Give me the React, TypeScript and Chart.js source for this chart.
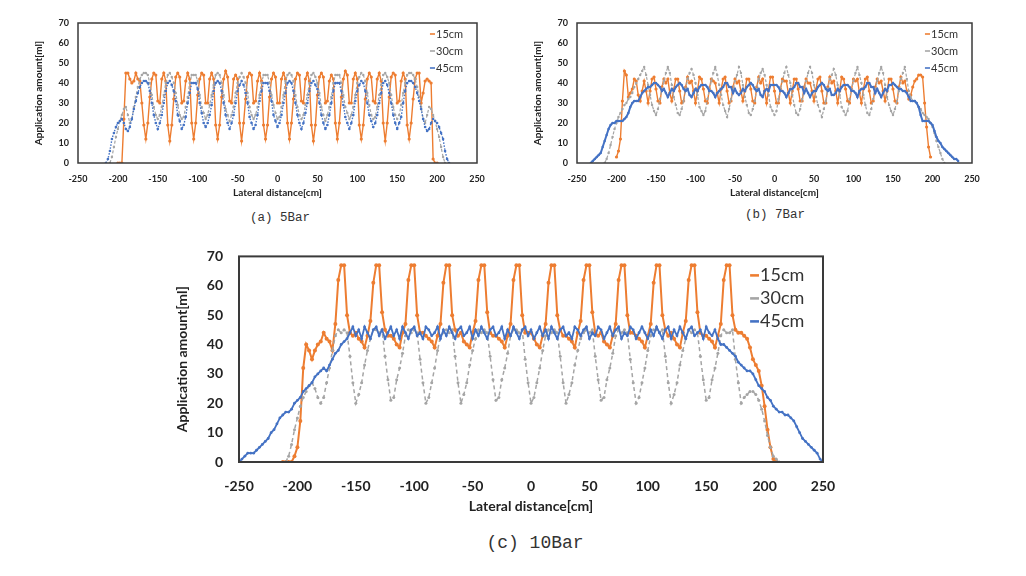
import React, { useEffect, useRef } from "react";
import { Chart, registerables } from "chart.js";

Chart.register(...registerables);

const _ = null;

// Lateral distance grid [cm]
const X = [-250,-247.5,-245,-242.5,-240,-237.5,-235,-232.5,-230,-227.5,-225,-222.5,-220,-217.5,-215,-212.5,-210,-207.5,-205,-202.5,
-200,-197.5,-195,-192.5,-190,-187.5,-185,-182.5,-180,-177.5,-175,-172.5,-170,-167.5,-165,-162.5,-160,-157.5,-155,-152.5,
-150,-147.5,-145,-142.5,-140,-137.5,-135,-132.5,-130,-127.5,-125,-122.5,-120,-117.5,-115,-112.5,-110,-107.5,-105,-102.5,
-100,-97.5,-95,-92.5,-90,-87.5,-85,-82.5,-80,-77.5,-75,-72.5,-70,-67.5,-65,-62.5,-60,-57.5,-55,-52.5,
-50,-47.5,-45,-42.5,-40,-37.5,-35,-32.5,-30,-27.5,-25,-22.5,-20,-17.5,-15,-12.5,-10,-7.5,-5,-2.5,
0,2.5,5,7.5,10,12.5,15,17.5,20,22.5,25,27.5,30,32.5,35,37.5,40,42.5,45,47.5,
50,52.5,55,57.5,60,62.5,65,67.5,70,72.5,75,77.5,80,82.5,85,87.5,90,92.5,95,97.5,
100,102.5,105,107.5,110,112.5,115,117.5,120,122.5,125,127.5,130,132.5,135,137.5,140,142.5,145,147.5,
150,152.5,155,157.5,160,162.5,165,167.5,170,172.5,175,177.5,180,182.5,185,187.5,190,192.5,195,197.5,
200,202.5,205,207.5,210,212.5,215,217.5,220,222.5,225,227.5,230,232.5,235,237.5,240,242.5,245,247.5,250];

const X_TICKS = [-250, -200, -150, -100, -50, 0, 50, 100, 150, 200, 250];
const Y_TICKS = [0, 10, 20, 30, 40, 50, 60, 70];
const SERIES_NAMES = ["15cm", "30cm", "45cm"];

// ---------- (a) 5Bar ----------
const A15 = [
_,_,_,_,_,_,_,_,_,_,_,_,_,_,_,_,_,_,_,_,
0,0,0,22,45,45,42,40,41,45,42,41,30,19,
12,20,33,42,45,44,31,30,42,45,41,19,
11,19,32,43,45,43,30,31,41,45,42,20,
12,20,34,42,45,44,30,30,42,45,42,19,
12,19,33,42,46,43,31,30,42,44,42,20,
11,20,32,43,45,44,30,31,41,45,41,19,
12,19,33,42,45,43,30,30,42,45,42,20,
12,20,32,42,45,44,31,30,42,45,41,19,
11,19,34,43,45,43,30,31,41,44,42,20,
12,20,33,42,46,44,30,30,42,45,42,19,
12,19,32,42,45,43,31,30,42,45,41,20,
11,20,33,43,45,44,30,31,41,45,42,19,
12,
20,32,42,45,45,30,35,41,42,41,40,2,0,0,
_,_,_,_,_,_,_,_,_,_,_,_,_,_,_,_,_,_,_,_];

const A30 = [
_,_,_,_,_,_,_,_,_,_,_,_,_,_,_,_,
0,3,8,13,17,21,24,27,28,24,20,22,28,33,38,42,44,45,
45,44,40,34,28,24,22,24,28,34,40,44,
45,43,40,35,29,24,22,23,28,33,40,44,
44,44,41,34,28,25,22,24,29,34,39,44,
45,44,40,34,27,24,21,24,28,35,40,43,
45,43,40,35,28,24,22,24,28,34,40,44,
44,44,40,34,29,25,22,23,28,34,41,44,
45,44,41,34,28,24,22,24,29,34,40,44,
45,43,40,35,28,24,21,24,28,33,40,44,
44,44,40,34,28,25,22,24,28,34,40,43,
45,44,41,35,29,24,22,23,28,34,39,44,
45,43,40,34,28,24,22,24,29,35,40,44,
45,
45,44,42,38,33,28,22,20,24,28,27,24,21,17,13,8,3,0,
_,_,_,_,_,_,_,_,_,_,_,_,_,_,_,_];

const A45 = [
_,_,_,_,_,_,_,_,_,_,_,_,_,_,
0,2,6,12,15,18,20,21,22,20,17,16,18,22,27,31,35,38,40,41,
41,40,36,30,24,20,17,20,24,30,36,40,
41,39,36,31,24,21,17,19,23,30,35,40,
40,40,37,30,25,20,18,20,24,29,36,40,
41,40,36,30,24,20,17,20,24,30,36,39,
41,39,35,30,23,20,17,19,24,31,36,40,
40,40,36,31,24,21,18,20,24,30,35,40,
41,40,36,30,24,20,17,20,25,30,36,40,
41,39,37,30,24,20,17,19,24,30,36,40,
40,40,36,29,23,20,17,20,24,31,36,39,
41,40,36,30,24,21,18,20,24,30,35,40,
41,39,35,30,24,20,17,20,23,30,36,40,
41,
41,40,38,35,31,27,22,18,16,17,20,22,21,20,18,15,12,6,2,0,
_,_,_,_,_,_,_,_,_,_,_,_,_,_];

// ---------- (b) 7Bar ----------
const B15 = [
_,_,_,_,_,_,_,_,_,_,_,_,_,_,_,_,_,_,_,_,
3,6,12,31,46,44,33,35,37,42,41,34,31,36,
41,36,30,36,42,43,37,31,30,38,42,40,
42,35,31,37,42,42,36,30,31,38,43,40,
41,36,30,36,43,42,37,31,30,37,42,41,
40,35,30,37,42,43,36,30,31,38,42,40,
41,36,31,36,42,42,37,31,30,38,43,40,
42,36,30,37,43,43,36,30,30,37,42,41,
41,35,30,36,42,42,37,31,31,38,42,40,
40,36,31,37,42,43,36,30,30,38,43,40,
41,36,30,36,43,42,37,31,30,37,42,41,
42,35,30,37,42,43,36,30,31,38,42,40,
41,36,31,36,42,42,37,31,30,38,43,40,
41,
36,32,34,38,41,42,44,44,43,30,18,8,3,_,
_,_,_,_,_,_,_,_,_,_,_,_,_,_,_,_,_,_,_,_];

const B30 = [
_,_,_,_,_,_,_,_,_,_,_,_,_,_,
0,2,5,9,13,17,20,23,25,27,29,30,32,33,35,38,40,42,44,46,
48,44,39,34,29,26,24,27,32,37,41,45,
48,45,39,33,29,25,24,27,31,37,42,45,
47,44,40,34,28,26,24,26,32,36,41,45,
48,44,39,34,29,26,23,27,32,37,41,44,
48,45,39,33,29,25,24,27,31,37,42,45,
47,44,39,34,28,26,24,26,32,37,41,45,
48,44,40,34,29,25,24,27,32,36,41,45,
48,45,39,33,29,26,23,27,31,37,42,44,
47,44,39,34,28,26,24,26,32,37,41,45,
48,44,40,34,29,25,24,27,32,37,41,45,
48,45,39,33,29,26,24,27,31,36,42,45,
48,
42,36,33,31,31,30,28,27,25,24,23,22,20,18,15,11,8,5,2,0,
_,_,_,_,_,_,_,_,_,_,_,_,_,_];

const B45 = [
_,_,_,_,_,_,_,
0,1,2,3,4,5,8,11,14,17,19,20,20,21,21,21,21,22,23,25,28,30,31,31,31,33,35,36,37,38,38,39,40,
40,39,38,36,37,35,33,35,37,36,38,39,
40,39,37,36,37,34,33,35,37,36,38,39,
39,39,38,36,36,35,33,35,36,37,38,40,
40,38,38,35,37,35,34,35,37,36,38,39,
40,39,37,36,37,34,33,36,37,36,39,39,
39,39,38,36,36,35,33,35,37,37,38,40,
40,38,38,35,37,35,33,35,36,36,38,39,
40,39,37,36,37,34,34,35,37,36,38,39,
39,39,38,36,36,35,33,36,37,37,38,40,
40,38,38,35,37,35,33,35,37,36,39,39,
40,
39,38,37,37,36,36,35,33,31,31,31,30,28,24,21,21,21,21,20,19,16,13,11,10,8,7,6,5,4,3,2,2,1,
_,_,_,_,_,_,_];

// ---------- (c) 10Bar ----------
const C15 = [
_,_,_,_,_,_,_,_,_,_,_,_,_,_,_,
0,0,0,0,2,5,14,32,40,38,35,38,40,41,44,42,41,38,
47,62,67,67,50,44,43,44,42,41,39,43,
48,61,67,67,51,45,43,43,42,40,39,44,
47,62,67,67,50,44,44,43,42,41,39,43,
47,61,67,67,50,45,43,44,41,40,39,44,
48,62,67,67,51,44,43,43,42,41,39,43,
47,62,67,67,50,44,44,44,42,40,39,43,
47,61,67,67,50,45,43,43,42,41,39,44,
48,62,67,67,51,44,43,44,41,40,39,43,
47,62,67,67,50,44,44,43,42,41,39,43,
47,61,67,67,50,45,43,44,42,40,39,44,
48,62,67,67,51,44,43,43,42,41,39,43,
47,62,67,67,50,45,
44,44,43,42,39,35,33,31,26,19,11,5,1,0,
_,_,_,_,_,_,_,_,_,_,_,_,_,_,_,_];

const C30 = [
_,_,_,_,_,_,_,_,_,_,_,_,_,_,_,_,
0,2,6,11,15,19,22,24,26,27,25,22,
20,22,27,32,38,43,45,44,45,44,36,27,
20,23,27,33,38,42,45,45,44,45,36,28,
21,22,28,32,37,43,45,44,45,44,35,27,
20,22,27,32,38,43,44,45,44,45,36,27,
20,23,27,33,38,42,45,44,45,44,36,28,
21,22,28,32,37,43,45,45,44,45,35,27,
20,22,27,32,38,43,45,44,45,44,36,27,
20,23,27,33,38,42,44,45,44,45,36,28,
21,22,28,32,37,43,45,44,45,44,35,27,
20,22,27,32,38,43,45,45,44,45,36,27,
20,23,27,33,38,42,45,44,45,44,36,28,
21,22,28,32,37,43,45,44,44,45,35,27,
20,
22,23,24,24,23,21,18,14,9,5,2,1,0,
_,_,_,_,_,_,_,_,_,_,_,_,_,_,_];

const C45 = [
0,1,2,3,3,3,4,5,6,7,8,10,11,13,15,16,17,17,18,20,21,22,24,25,26,27,29,30,31,32,31,33,35,37,38,40,41,42,
44,46,43,45,42,46,44,42,45,46,
43,45,42,44,46,43,45,42,46,44,
42,45,46,43,44,42,46,45,43,44,
46,42,45,43,46,44,42,45,46,43,
44,46,42,45,43,46,44,42,45,46,
43,44,46,42,45,43,46,44,42,45,
46,43,45,42,44,46,43,45,42,46,
44,42,45,46,43,44,42,46,45,43,
45,46,42,44,43,46,45,42,44,46,
43,45,46,42,44,43,46,45,42,44,
46,44,42,45,43,46,44,42,45,46,
42,45,43,46,44,42,45,46,43,44,
45,42,46,44,43,45,42,
40,40,39,38,37,36,34,33,32,31,31,30,28,26,25,24,22,21,19,18,17,17,16,16,15,14,12,10,8,7,6,5,4,3,1,0];

const ORANGE = "#ED7D31";
const GREY = "#A5A5A5";
const BLUE = "#4472C4";
const COLORS = [ORANGE, GREY, BLUE];

type Panel = {
  series: (number | null)[][];
  canvasW: number;
  canvasH: number;
  yAxisW: number;
  xAxisH: number;
  padTop: number;
  padRight: number;
  tickSize: number;
  titleSize: number;
  xTickPad: number;
  yTickPad: number;
  yTitlePad: number;
  xTitlePad: number;
  legendSize: number;
  legendDx: number;
  legendDy: number;
  legendGap: number;
  frameW: number;
  lineW: number[];
  pointR: number[];
  dash: number[][];
};

const framePlugin = {
  id: "frame",
  afterDatasetsDraw(chart: any, _a: any, opts: any) {
    const { ctx, chartArea } = chart;
    ctx.save();
    ctx.strokeStyle = "#3a3a3a";
    ctx.lineWidth = opts.width || 1.5;
    ctx.setLineDash([]);
    ctx.strokeRect(chartArea.left, chartArea.top, chartArea.right - chartArea.left, chartArea.bottom - chartArea.top);
    ctx.restore();
  },
};

const legendPlugin = {
  id: "inLegend",
  afterDraw(chart: any, _a: any, opts: any) {
    const { ctx, chartArea } = chart;
    ctx.save();
    ctx.font = `${opts.size}px Lato`;
    ctx.textBaseline = "middle";
    ctx.textAlign = "left";
    chart.data.datasets.forEach((ds: any, k: number) => {
      const y = chartArea.top + opts.dy + k * opts.gap;
      const x = chartArea.right - opts.dx;
      ctx.strokeStyle = ds.borderColor;
      ctx.lineWidth = Math.max(1.5, opts.size / 7);
      ctx.setLineDash([]);
      ctx.beginPath();
      ctx.moveTo(x - opts.size * 0.55, y);
      ctx.lineTo(x - 1, y);
      ctx.stroke();
      ctx.fillStyle = "#333";
      ctx.fillText(ds.label, x, y);
    });
    ctx.restore();
  },
};

function buildChart(canvas: HTMLCanvasElement, p: Panel) {
  const datasets = p.series.map((ys, k) => ({
    label: SERIES_NAMES[k],
    data: X.map((x, i) => ({ x, y: ys[i] })),
    borderColor: COLORS[k],
    backgroundColor: COLORS[k],
    pointBackgroundColor: COLORS[k],
    pointBorderWidth: 0,
    borderWidth: p.lineW[k],
    pointRadius: p.pointR[k],
    borderDash: p.dash[k],
    tension: 0,
    spanGaps: false,
    order: 3 - k,
  }));
  const tickFont = { family: "Lato", size: p.tickSize, weight: "bold" as const };
  const titleFont = { family: "Lato", size: p.titleSize, weight: "bold" as const };
  return new Chart(canvas, {
    type: "line",
    data: { datasets },
    options: {
      responsive: false,
      animation: false,
      devicePixelRatio: 1,
      layout: { padding: { top: p.padTop, right: p.padRight, left: 0, bottom: 0 } },
      plugins: {
        legend: { display: false },
        tooltip: { enabled: false },
        frame: { width: p.frameW },
        inLegend: { size: p.legendSize, dx: p.legendDx, dy: p.legendDy, gap: p.legendGap },
      } as any,
      scales: {
        x: {
          type: "linear",
          min: X_TICKS[0],
          max: X_TICKS[X_TICKS.length - 1],
          afterBuildTicks: (s: any) => { s.ticks = X_TICKS.map((v) => ({ value: v })); },
          ticks: { font: tickFont, color: "#222", padding: p.xTickPad, maxRotation: 0, autoSkip: false },
          grid: { display: false, drawTicks: false },
          border: { display: false },
          title: { display: true, text: "Lateral distance[cm]", font: titleFont, color: "#222", padding: { top: 0, bottom: p.xTitlePad } },
          afterFit: (s: any) => { s.height = p.xAxisH; },
        },
        y: {
          type: "linear",
          min: Y_TICKS[0],
          max: Y_TICKS[Y_TICKS.length - 1],
          afterBuildTicks: (s: any) => { s.ticks = Y_TICKS.map((v) => ({ value: v })); },
          ticks: { font: tickFont, color: "#222", padding: p.yTickPad },
          grid: { display: false, drawTicks: false },
          border: { display: false },
          title: { display: true, text: "Application amount[ml]", font: titleFont, color: "#222", padding: { top: p.yTitlePad, bottom: 0 } },
          afterFit: (s: any) => { s.width = p.yAxisW; },
        },
      },
    } as any,
    plugins: [framePlugin, legendPlugin],
  });
}

const PANEL_A: Panel = {
  series: [A15, A30, A45], canvasW: 500, canvasH: 205, yAxisW: 78, xAxisH: 42, padTop: 23, padRight: 23,
  tickSize: 9, titleSize: 10, xTickPad: 11, yTickPad: 9, yTitlePad: 33, xTitlePad: 6,
  legendSize: 11, legendDx: 41, legendDy: 11, legendGap: 17, frameW: 1.5,
  lineW: [1.4, 1.2, 1.4], pointR: [1.6, 1.2, 1.3], dash: [[], [3, 2], [1.5, 1.5]],
};
const PANEL_B: Panel = {
  series: [B15, B30, B45], canvasW: 500, canvasH: 205, yAxisW: 77, xAxisH: 42, padTop: 23, padRight: 28,
  tickSize: 9, titleSize: 10, xTickPad: 11, yTickPad: 9, yTitlePad: 32, xTitlePad: 6,
  legendSize: 11, legendDx: 41, legendDy: 11, legendGap: 17, frameW: 1.5,
  lineW: [1.4, 1.2, 2], pointR: [1.6, 1.2, 1.2], dash: [[], [3, 2], []],
};
const PANEL_C: Panel = {
  series: [C15, C30, C45], canvasW: 700, canvasH: 290, yAxisW: 79, xAxisH: 60, padTop: 22, padRight: 37,
  tickSize: 14, titleSize: 14, xTickPad: 16, yTickPad: 16, yTitlePad: 14, xTitlePad: 7,
  legendSize: 18, legendDx: 63, legendDy: 19, legendGap: 23, frameW: 2,
  lineW: [2, 1.5, 1.8], pointR: [2, 1.5, 1.4], dash: [[], [4, 3], []],
};

function ChartCanvas({ panel, left, top }: { panel: Panel; left: number; top: number }) {
  const ref = useRef<HTMLCanvasElement>(null);
  useEffect(() => {
    if (!ref.current) return;
    const chart = buildChart(ref.current, panel);
    return () => chart.destroy();
  }, [panel]);
  return (
    <canvas
      ref={ref}
      width={panel.canvasW}
      height={panel.canvasH}
      style={{ position: "absolute", left, top, width: panel.canvasW, height: panel.canvasH }}
    />
  );
}

function Caption({ text, x, y, size }: { text: string; x: number; y: number; size: number }) {
  return (
    <div
      style={{
        position: "absolute",
        left: x,
        top: y,
        transform: "translate(-50%, -50%)",
        fontFamily: "'Liberation Mono', monospace",
        fontSize: size,
        color: "#333",
        whiteSpace: "pre",
        lineHeight: 1,
      }}
    >
      {text}
    </div>
  );
}

export default function App() {
  return (
    <div style={{ position: "absolute", left: 0, top: 0, width: 1026, height: 576, background: "#fff", overflow: "hidden" }}>
      <ChartCanvas panel={PANEL_A} left={0} top={0} />
      <ChartCanvas panel={PANEL_B} left={500} top={0} />
      <ChartCanvas panel={PANEL_C} left={160} top={232} />
      <Caption text="(a) 5Bar" x={280} y={218} size={12.5} />
      <Caption text="(b) 7Bar" x={775} y={215} size={12.5} />
      <Caption text="(c) 10Bar" x={535} y={543} size={18} />
    </div>
  );
}
